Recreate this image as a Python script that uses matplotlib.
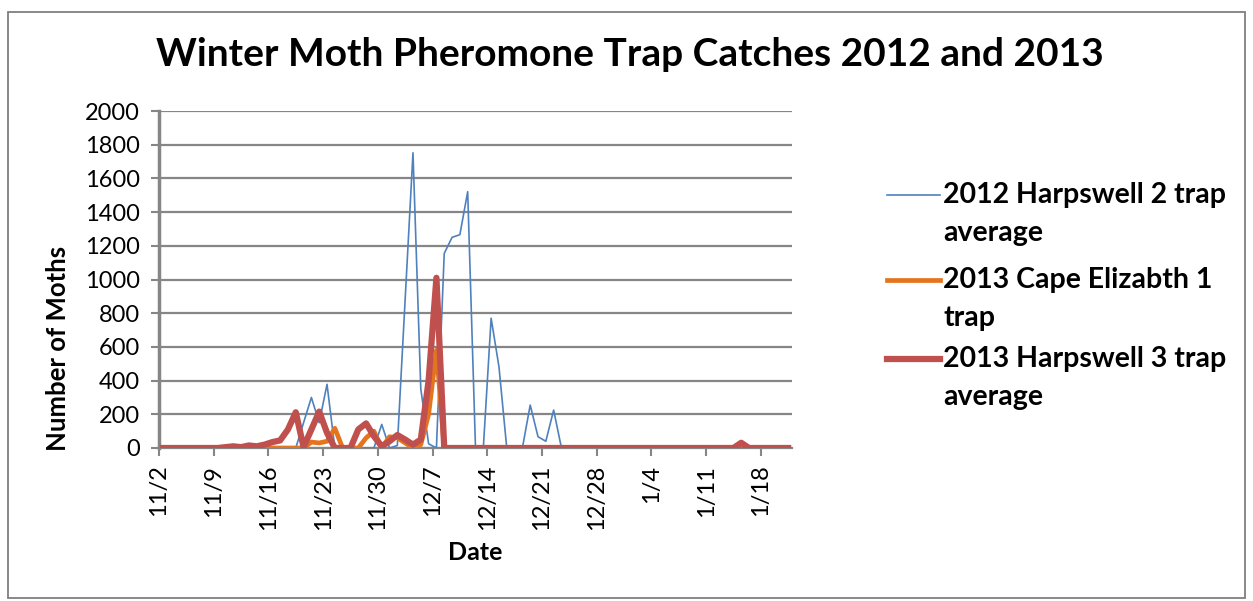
import matplotlib
matplotlib.use("Agg")
import matplotlib.pyplot as plt
from matplotlib.lines import Line2D
from matplotlib.patches import Rectangle
import pandas as pd

# --- data (month/day, moths per trap) ---
harps2012_dates = ['11/2', '11/12', '11/13', '11/14', '11/19', '11/21', '11/22', '11/23',
                   '11/24', '11/29', '11/30', '12/1', '12/2', '12/4', '12/5', '12/6', '12/7',
                   '12/8', '12/9', '12/10', '12/11', '12/12', '12/13', '12/14', '12/15',
                   '12/16', '12/18', '12/19', '12/20', '12/21', '12/22', '12/23', '1/21']
harps2012_vals = [0, 0, 25, 0, 0, 300, 150, 378,
                  0, 0, 140, 0, 15, 1752, 350, 25, 0,
                  1155, 1250, 1266, 1521, 0, 0, 770, 483,
                  0, 0, 255, 67, 40, 225, 0, 0]

cape2013_dates = ['11/2', '11/20', '11/21', '11/22', '11/23', '11/24', '11/25', '11/27',
                  '11/28', '11/29', '11/30', '12/1', '12/2', '12/3', '12/4', '12/5', '12/6',
                  '12/7', '12/8', '1/14', '1/15', '1/16', '1/21']
cape2013_vals = [0, 0, 35, 30, 40, 117, 0, 0,
                 60, 100, 0, 67, 60, 30, 0, 20, 200,
                 580, 0, 0, 25, 0, 0]

harps2013_dates = ['11/2', '11/9', '11/10', '11/11', '11/12', '11/13', '11/14', '11/15',
                   '11/16', '11/17', '11/18', '11/19', '11/20', '11/21', '11/22', '11/23',
                   '11/24', '11/26', '11/27', '11/28', '11/29', '11/30', '12/1', '12/2',
                   '12/3', '12/4', '12/5', '12/6', '12/7', '12/8', '1/14', '1/15', '1/16', '1/21']
harps2013_vals = [0, 0, 5, 10, 5, 15, 10, 20,
                  35, 45, 110, 212, 5, 110, 216, 90,
                  0, 0, 110, 146, 70, 10, 40, 77,
                  50, 20, 50, 400, 1010, 0, 0, 31, 0, 0]

series_names = ['2012 Harpswell 2 trap\naverage', '2013 Cape Elizabth 1\ntrap',
                '2013 Harpswell 3 trap\naverage']
y_ticks = list(range(0, 2001, 200))


def toDates(md):
  # put every month/day on one Nov-Jan season so the years overlay
  out = []
  for s in md:
    m, d = s.split('/')
    yr = 2013 if int(m) >= 11 else 2014
    out.append(pd.Timestamp(yr, int(m), int(d)) + pd.Timedelta(hours=12))
  return out


W, H = 1253, 601
def px(x):
  return x / W
def py(y):
  return 1 - y / H

plt.rcParams['font.family'] = ['Lato', 'DejaVu Sans']
GRID = '#868686'

fig = plt.figure(figsize=(W / 100, H / 100), dpi=100)
fig.add_artist(Rectangle((px(8), py(598)), px(1245) - px(8), py(12) - py(598),
                         transform=fig.transFigure, fill=False, ec='#7f7f7f', lw=1.3))

ax = fig.add_axes([px(159), py(448), px(792) - px(159), py(111) - py(448)])

colors = ['#4F81BD', '#E5741F', '#C0504D']
widths = [1.2, 3.4, 4.5]
data = [(harps2012_dates, harps2012_vals), (cape2013_dates, cape2013_vals),
        (harps2013_dates, harps2013_vals)]
for (dts, vals), c, lw in zip(data, colors, widths):
  ax.plot(toDates(dts), vals, color=c, lw=lw, solid_joinstyle='round', zorder=3)

start = pd.Timestamp(2013, 11, 2)
end = pd.Timestamp(2014, 1, 22)
ax.set_xlim(start, end)
ax.set_ylim(0, 2000)
ax.set_yticks(y_ticks)
ticks = pd.date_range(start, end, freq='7D')
ax.set_xticks(ticks)
ax.set_xticklabels([f"{t.month}/{t.day}" for t in ticks], rotation=90, fontsize=17)
ax.tick_params(axis='y', labelsize=17, length=6, width=1.5, color=GRID, pad=8)
ax.tick_params(axis='x', length=6, width=1.5, color=GRID, pad=6)

ax.grid(axis='y', color=GRID, lw=1.6)
ax.set_axisbelow(True)
for s in ['top', 'right']:
  ax.spines[s].set_visible(False)
ax.spines['left'].set_color(GRID)
ax.spines['left'].set_linewidth(2.5)
ax.spines['bottom'].set_color(GRID)
ax.spines['bottom'].set_linewidth(1.6)

fig.text(px(630), py(55), 'Winter Moth Pheromone Trap Catches 2012 and 2013',
         ha='center', va='center', fontsize=28, fontweight='bold')
fig.text(px(58), py(348), 'Number of Moths', rotation=90, ha='center', va='center',
         fontsize=18.5, fontweight='bold')
fig.text(px(475), py(553), 'Date', ha='center', va='center', fontsize=18, fontweight='bold')

# legend, drawn by hand so the key sits on the first text line
leg_y = [195, 280, 359]
for name, c, lw, y in zip(series_names, colors, widths, leg_y):
  fig.add_artist(Line2D([px(887), px(940)], [py(y), py(y)], color=c, lw=lw,
                        transform=fig.transFigure))
  fig.text(px(943), py(y - 13), name, ha='left', va='top', fontsize=20.5,
           fontweight='bold', linespacing=1.57)

fig.savefig('out.png', dpi=100)
